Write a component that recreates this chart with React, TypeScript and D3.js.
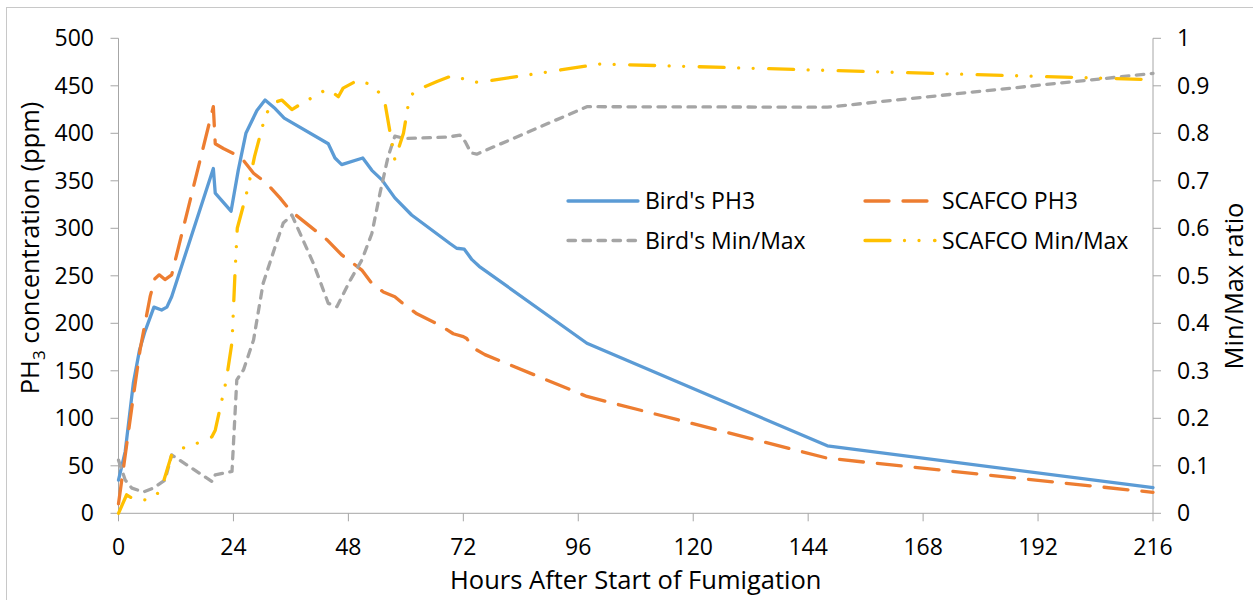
import React from "react";
import * as d3 from "d3";

// ---- data ----
const hourTicks = [0, 24, 48, 72, 96, 120, 144, 168, 192, 216];
const ppmTicks = [0, 50, 100, 150, 200, 250, 300, 350, 400, 450, 500];
const ratioTicks = [0, 0.1, 0.2, 0.3, 0.4, 0.5, 0.6, 0.7, 0.8, 0.9, 1];

const birdPh3Hours = [0, 1.4, 3.1, 4.4, 5.5, 7.4, 9.0, 10.1, 11.1, 19.8, 20.2, 23.5, 25, 26.6, 28.9, 30.6, 32.7, 34.6, 43.8, 45.2, 46.6, 51, 52.9, 55, 57.7, 61.2, 69.2, 70.6, 72.2, 73.8, 75.3, 97.8, 148, 216];
const birdPh3Ppm = [35, 65, 137, 172, 191, 217, 214, 217, 228, 363, 337, 318, 361, 400, 424, 435, 426, 416, 389, 374, 367, 374, 361, 351, 332, 314, 284, 279, 278, 267, 260, 179, 71, 27];

const scafcoPh3Hours = [0, 3.1, 4.5, 6.6, 7.6, 8.5, 9.7, 11.1, 19.8, 20.2, 21.9, 24.7, 25.7, 28.2, 31, 33.7, 35.8, 40, 43.5, 46.6, 49, 50.8, 52.9, 55.3, 57.7, 59.8, 62.3, 67.1, 69.9, 72, 72.7, 74.1, 76.5, 97.8, 148, 216];
const scafcoPh3Ppm = [10, 123, 172, 228, 247, 251, 246, 251, 428, 389, 384, 377, 374, 358, 347, 332, 319, 302, 288, 272, 263, 256, 242, 233, 228, 219, 210, 198, 189, 186, 184, 174, 167, 123, 58, 22];

const birdRatioHours = [0, 1.4, 2.8, 5.2, 7.3, 9.7, 11.1, 19.5, 20.2, 23.7, 24.7, 26.1, 28.2, 30.2, 32.7, 34.4, 36.2, 40.7, 43.8, 45.6, 48.4, 50.8, 52.9, 54.6, 56.3, 57.7, 59.8, 68.6, 71.3, 72.4, 73.6, 74.8, 97.8, 148, 216];
const birdRatio = [0.112, 0.07, 0.053, 0.045, 0.053, 0.07, 0.123, 0.067, 0.081, 0.088, 0.281, 0.302, 0.365, 0.484, 0.561, 0.611, 0.628, 0.526, 0.442, 0.435, 0.491, 0.533, 0.589, 0.674, 0.751, 0.794, 0.789, 0.792, 0.796, 0.782, 0.759, 0.756, 0.856, 0.855, 0.926];

const scafcoRatioHours = [0, 1.7, 2.8, 5.7, 8.1, 9.4, 11.1, 13.4, 16.3, 19.5, 20.2, 22.5, 23.7, 24.3, 24.8, 26.1, 27.1, 28.4, 30.6, 32, 34.1, 36.2, 38.3, 43.7, 45.9, 46.9, 49.8, 52, 54.4, 55.7, 57.7, 59.5, 60.5, 61.6, 66.5, 69.6, 71.9, 75.1, 100.6, 216];
const scafcoRatio = [0, 0.039, 0.032, 0.028, 0.041, 0.067, 0.123, 0.137, 0.147, 0.161, 0.175, 0.28, 0.36, 0.5, 0.6, 0.649, 0.688, 0.751, 0.835, 0.863, 0.87, 0.85, 0.863, 0.894, 0.877, 0.895, 0.911, 0.905, 0.886, 0.86, 0.744, 0.8, 0.86, 0.888, 0.909, 0.921, 0.915, 0.907, 0.946, 0.913];

const seriesNames = ["Bird's PH3", "SCAFCO PH3", "Bird's Min/Max", "SCAFCO Min/Max"];

// ---- layout ----
const W = 1253;
const H = 600;
const X0 = 118.5;
const X1 = 1153;
const Y0 = 513.3;
const Y1 = 38.3;
const FONT = "'Open Sans', sans-serif";
const AXIS = "#A6A6A6";
const SW = 3.3;

const styles = [
  { color: "#5B9BD5", dash: undefined as string | undefined },
  { color: "#ED7D31", dash: "24 14" },
  { color: "#A5A5A5", dash: "7.5 7.5" },
  { color: "#FFC000", dash: "25 14.5 0.01 14.5 0.01 15.5" },
];

export default function App() {
  const x = d3.scaleLinear().domain([0, 216]).range([X0, X1]);
  const yL = d3.scaleLinear().domain([0, 500]).range([Y0, Y1]);
  const yR = d3.scaleLinear().domain([0, 1]).range([Y0, Y1]);

  const mk = (hs: number[], vs: number[], ys: d3.ScaleLinear<number, number>) =>
    d3
      .line<number>()
      .x((_, i) => x(hs[i]))
      .y((v) => ys(v))
      .curve(d3.curveLinear)(vs) as string;

  const paths = [
    mk(birdPh3Hours, birdPh3Ppm, yL),
    mk(scafcoPh3Hours, scafcoPh3Ppm, yL),
    mk(birdRatioHours, birdRatio, yR),
    mk(scafcoRatioHours, scafcoRatio, yR),
  ];

  const legendPos = [
    { lx: 568, tx: 645, y: 201 },
    { lx: 865, tx: 942, y: 201 },
    { lx: 568, tx: 645, y: 240.5 },
    { lx: 865, tx: 942, y: 240.5 },
  ];

  return (
    <svg
      width={W}
      height={H}
      style={{ position: "absolute", left: 0, top: 0, background: "#fff" }}
      fontFamily={FONT}
    >
      <rect x={6.5} y={7.5} width={1400} height={800} fill="#fff" stroke="#C8C8C8" strokeWidth={1} />

      {/* axes */}
      <line x1={X0} x2={X0} y1={Y1} y2={Y0} stroke={AXIS} strokeWidth={1} />
      <line x1={X1} x2={X1} y1={Y1} y2={Y0} stroke={AXIS} strokeWidth={1} />
      <line x1={X0} x2={X1} y1={Y0} y2={Y0} stroke={AXIS} strokeWidth={1} />

      {ppmTicks.map((t) => (
        <g key={"l" + t}>
          <line x1={X0 - 8} x2={X0} y1={yL(t)} y2={yL(t)} stroke={AXIS} />
          <text x={94} y={yL(t)} dy="0.35em" textAnchor="end" fontSize={23} fill="#000">
            {t}
          </text>
        </g>
      ))}
      {ratioTicks.map((t) => (
        <g key={"r" + t}>
          <line x1={X1} x2={X1 + 8} y1={yR(t)} y2={yR(t)} stroke={AXIS} />
          <text x={1177} y={yR(t)} dy="0.35em" textAnchor="start" fontSize={23} fill="#000">
            {d3.format("~g")(t)}
          </text>
        </g>
      ))}
      {hourTicks.map((t) => (
        <g key={"x" + t}>
          <line x1={x(t)} x2={x(t)} y1={Y0} y2={Y0 + 8} stroke={AXIS} />
          <text x={x(t)} y={555} textAnchor="middle" fontSize={23} fill="#000">
            {t}
          </text>
        </g>
      ))}

      {/* axis titles */}
      <text x={(X0 + X1) / 2} y={589} textAnchor="middle" fontSize={25.5} fill="#000">
        Hours After Start of Fumigation
      </text>
      <text transform="translate(39,248) rotate(-90)" textAnchor="middle" fontSize={25.5} fill="#000">
        PH<tspan fontSize={17} dy={6}>3</tspan>
        <tspan dy={-6}> concentration (ppm)</tspan>
      </text>
      <text transform="translate(1243,286) rotate(-90)" textAnchor="middle" fontSize={25.5} fill="#000">
        Min/Max ratio
      </text>

      {/* series */}
      {paths.map((d, i) => (
        <path
          key={i}
          d={d}
          fill="none"
          stroke={styles[i].color}
          strokeWidth={SW}
          strokeDasharray={styles[i].dash}
          strokeLinecap="round"
          strokeLinejoin="round"
        />
      ))}

      {/* legend */}
      {seriesNames.map((n, i) => (
        <g key={n}>
          <line
            x1={legendPos[i].lx}
            x2={legendPos[i].lx + 70}
            y1={legendPos[i].y}
            y2={legendPos[i].y}
            stroke={styles[i].color}
            strokeWidth={SW}
            strokeDasharray={styles[i].dash}
            strokeLinecap="round"
          />
          <text x={legendPos[i].tx} y={legendPos[i].y} dy="0.35em" fontSize={23} fill="#000">
            {n}
          </text>
        </g>
      ))}
    </svg>
  );
}
